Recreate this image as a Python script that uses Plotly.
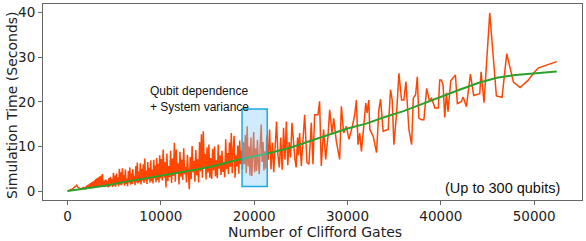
import plotly.graph_objects as go

# ---- Data ----
gates = [
    0, 150, 300, 450, 600, 750, 900, 1000, 1100, 1250, 1400, 1550, 1700,
    1850, 1920, 1990, 2060, 2130, 2200, 2270, 2340, 2410, 2480, 2550, 2620, 2690, 2760, 2830,
    2900, 2970, 3040, 3110, 3180, 3250, 3320, 3390, 3460, 3530, 3600, 3670, 3740, 3810,
    3880, 3960, 4040, 4120, 4200, 4280, 4360, 4440, 4520, 4600, 4680, 4760, 4840, 4920,
    5000, 5080, 5160, 5240, 5320, 5400, 5480, 5560, 5640, 5720, 5800, 5880, 5960, 6040,
    6120, 6200, 6280, 6360, 6440, 6520, 6600, 6680, 6760, 6840, 6920, 7000, 7080, 7160,
    7240, 7320, 7400, 7480, 7560, 7640, 7720, 7800, 7880, 7960, 8040, 8120, 8200, 8280,
    8360, 8440, 8520, 8600, 8680, 8760, 8840, 8920, 9000, 9080, 9160, 9240, 9320, 9400,
    9480, 9560, 9640, 9720, 9800, 9880, 9960,
    10050, 10150, 10250, 10350, 10450, 10550, 10650, 10750, 10850, 10950, 11050, 11150,
    11250, 11350, 11450, 11550, 11650, 11750, 11850, 11950, 12050, 12150, 12250, 12350,
    12450, 12550, 12650, 12750, 12850, 12950, 13050, 13150, 13250, 13350, 13450, 13550,
    13650, 13750, 13850, 13950, 14050, 14150, 14250, 14350, 14450, 14550, 14650, 14750,
    14850, 14950, 15050, 15150, 15250, 15350, 15450, 15550, 15650, 15750, 15850, 15950,
    16050, 16150, 16250, 16350, 16450, 16550, 16650, 16750, 16850, 16950, 17050, 17150,
    17250, 17350, 17450, 17550, 17650, 17750, 17850, 17950, 18050, 18150, 18250, 18350,
    18450, 18550, 18650,
    18750, 18850, 18950, 19050, 19150, 19250, 19350, 19450, 19550, 19650, 19750, 19850,
    19950, 20050, 20150, 20250, 20350, 20450, 20550, 20650, 20760, 20850, 20950, 21050,
    21150, 21250, 21350,
    21500, 21650, 21800, 21950, 22100, 22250, 22400, 22550, 22700, 22850, 23000, 23150,
    23300, 23450, 23600, 23750, 23900, 24050, 24200, 24350, 24500, 24650, 24750,
    24870, 25050, 25410, 25660, 25870, 26120, 26300, 26480, 26840, 27010, 27190, 27440,
    27660, 27910, 28090, 28340, 28520, 28800, 29160, 29340, 29590, 29880, 30160, 30520,
    30770, 30950, 31130, 31310, 31490, 31740, 31960, 32100, 32280, 32390, 32750, 33110,
    33360, 33540, 33820, 34360, 34610, 34790, 34970, 35260, 35510, 35790, 36040, 36260,
    36400, 36580, 36870, 37050, 37300, 37480, 37650, 37940, 38190, 38480, 38760, 39010,
    39370, 39730,
    39880, 40060, 40240, 40420, 40600, 40770, 41060, 41560, 41770, 42200, 42380, 42740,
    43170, 43520, 44170, 44310, 44630, 45240, 45950, 46560, 47060, 47780, 48490, 49390,
    49920, 50460, 52420,
]

sim_time = [
    0.0, 0.1, 0.2, 0.4, 0.6, 0.8, 1.1, 1.3, 0.9, 0.6, 0.5, 0.6, 0.8,
    0.5, 1.0, 0.6, 1.2, 0.5, 1.4, 0.7, 1.6, 0.6, 1.8, 0.8, 2.0, 0.7, 2.2, 0.9,
    2.4, 0.8, 2.7, 1.0, 2.9, 0.9, 3.1, 1.1, 3.3, 1.0, 3.5, 1.2, 3.8, 1.0,
    1.2, 2.4, 0.9, 2.6, 1.1, 2.2, 0.8, 2.9, 1.0, 3.2, 1.3, 2.7, 0.9, 4.1,
    1.2, 3.5, 1.0, 3.9, 1.5, 3.0, 1.1, 5.0, 1.4, 4.2, 1.3, 5.1, 1.7, 3.6,
    1.2, 4.8, 1.6, 2.8, 1.1, 4.5, 1.9, 5.3, 1.4, 3.9, 1.6, 4.9, 2.0, 3.4,
    1.3, 5.6, 1.9, 6.4, 1.7, 4.4, 2.1, 6.2, 1.5, 5.0, 2.3, 6.0, 1.8, 7.3,
    2.4, 4.6, 1.6, 6.5, 2.6, 5.2, 1.9, 6.9, 2.2, 4.8, 1.7, 7.0, 2.8, 5.7,
    2.0, 7.4, 2.5, 6.1, 1.9, 8.0, 2.9,
    7.2, 2.4, 9.3, 3.0, 6.5, 0.8, 8.4, 2.2, 5.6, 3.1, 9.0, 1.8,
    7.3, 3.4, 10.8, 2.1, 9.3, 4.0, 6.2, 1.5, 8.8, 3.2, 7.0, 2.5,
    9.6, 3.8, 5.4, 1.9, 8.1, 3.0, 0.4, 7.6, 2.7, 10.1, 4.2, 6.8,
    2.1, 9.2, 3.5, 7.1, 1.9, 11.0, 4.4, 12.7, 3.0, 13.4, 5.2, 8.3,
    2.6, 9.8, 4.1, 10.4, 3.0, 7.4, 2.7, 9.5, 4.6, 10.0, 3.3, 6.9,
    2.9, 10.4, 5.0, 8.0, 3.6, 9.0, 4.3, 6.5, 3.1, 11.6, 4.9, 8.5,
    3.8, 10.9, 5.4, 13.0, 4.0, 9.1, 12.4, 3.0, 8.0, 5.5, 10.2, 3.9,
    11.3, 6.0, 9.0,
    4.8, 11.0, 6.0, 12.6, 4.0, 14.5, 5.5, 10.0, 3.5, 12.0, 3.4, 8.8,
    13.2, 4.2, 9.6, 4.5, 11.5, 6.0, 3.8, 10.5, 14.9, 6.5, 11.0, 4.6,
    8.9, 5.0, 12.5,
    7.0, 13.8, 4.9, 10.8, 4.2, 9.0, 15.6, 8.0, 5.3, 12.0, 4.8, 14.2,
    7.0, 15.6, 5.8, 11.0, 7.5, 15.3, 10.3, 7.5, 5.3, 12.0, 8.0,
    13.0, 5.6, 17.1, 6.4, 6.0, 15.3, 6.0, 17.1, 17.1, 20.1, 5.6, 13.8,
    7.1, 12.3, 18.2, 13.0, 16.3, 11.2, 7.1, 19.0, 13.0, 14.5, 11.6, 14.5,
    17.1, 20.4, 10.4, 13.0, 8.9, 14.5, 19.7, 17.5, 20.4, 13.8, 12.3, 8.6,
    18.2, 20.6, 13.4, 13.8, 22.7, 20.4, 10.4, 17.5, 26.4, 20.4, 20.4, 24.5,
    18.6, 13.8, 10.4, 20.8, 21.6, 25.6, 16.3, 16.0, 16.0, 23.0, 20.4, 20.8,
    18.6, 18.6,
    24.9, 24.9, 23.8, 16.5, 22.0, 17.8, 24.7, 26.0, 19.6, 20.0, 21.1, 18.9,
    26.2, 21.4, 21.8, 26.7, 19.8, 39.9, 21.3, 21.0, 30.8, 24.4, 23.2, 24.9,
    26.4, 27.6, 29.0,
]

trend_gates = [0, 2000, 4000, 6000, 8000, 10000, 12000, 14000, 16000, 18000, 20000,
               22000, 24000, 26000, 28000, 30000, 32000, 34000, 36000, 38000, 40000,
               42000, 44000, 46000, 48000, 50000, 52420]
trend_time = [0.0, 0.6, 1.2, 2.0, 2.7, 3.4, 4.1, 4.9, 5.8, 6.9, 7.8,
              8.7, 9.8, 11.2, 12.7, 14.0, 15.1, 16.6, 17.9, 19.5, 21.2,
              22.7, 24.2, 25.4, 26.0, 26.4, 26.8]

x_ticks = [0, 10000, 20000, 30000, 40000, 50000]
y_ticks = [0, 10, 20, 30, 40]

box_x = [18700, 21400]
box_y = [1.0, 18.4]

fig = go.Figure()
fig.add_trace(go.Scatter(x=gates, y=sim_time, mode="lines",
                         line=dict(color="#ff4500", width=1.5), showlegend=False))
fig.add_trace(go.Scatter(x=trend_gates, y=trend_time, mode="lines",
                         line=dict(color="#2ca02c", width=2), showlegend=False))

fig.add_shape(type="rect", x0=box_x[0], x1=box_x[1], y0=box_y[0], y1=box_y[1],
              xref="x", yref="y", layer="above",
              fillcolor="rgba(135,206,250,0.4)",
              line=dict(color="#1aa9e0", width=1.5))

fig.add_annotation(x=8580, y=20.6, xref="x", yref="y", xanchor="left", yanchor="middle",
                   text="Qubit dependence<br>+ System variance", showarrow=False, align="left",
                   font=dict(family="Liberation Sans, Arial", size=12, color="#111"))
fig.add_annotation(x=0.963, y=0.061, xref="paper", yref="paper", xanchor="right",
                   yanchor="middle", text="(Up to 300 qubits)", showarrow=False,
                   font=dict(family="Liberation Sans, Arial", size=14.5, color="#111"))

# axis titles placed as annotations
title_font = dict(family="DejaVu Sans", size=14, color="#222")
fig.add_annotation(x=0.505, y=-0.162, xref="paper", yref="paper", xanchor="center",
                   yanchor="middle", text="Number of Clifford Gates", showarrow=False,
                   font=title_font)
fig.add_annotation(x=-0.0575, y=0.48, xref="paper", yref="paper", xanchor="center",
                   yanchor="middle", text="Simulation Time (Seconds)", showarrow=False,
                   textangle=-90, font=title_font)

axis_common = dict(showgrid=False, zeroline=False, showline=True, linecolor="#666",
                   linewidth=1, mirror=True, ticks="outside", ticklen=4, tickcolor="#666",
                   automargin=False,
                   tickfont=dict(family="DejaVu Sans", size=13.5, color="#222"))

fig.update_xaxes(range=[-2625, 55125], tickvals=x_ticks,
                 ticktext=[str(v) for v in x_ticks], **axis_common)
fig.update_yaxes(range=[-2, 41.9], tickvals=y_ticks,
                 ticktext=[str(v) for v in y_ticks], **axis_common)

fig.update_layout(width=586, height=241, margin=dict(l=43, r=4, t=4, b=41),
                  plot_bgcolor="white", paper_bgcolor="white")

fig.write_html("out.html", config={"displayModeBar": False},
               post_script="document.body.style.margin='0';document.body.style.overflow='hidden';")
